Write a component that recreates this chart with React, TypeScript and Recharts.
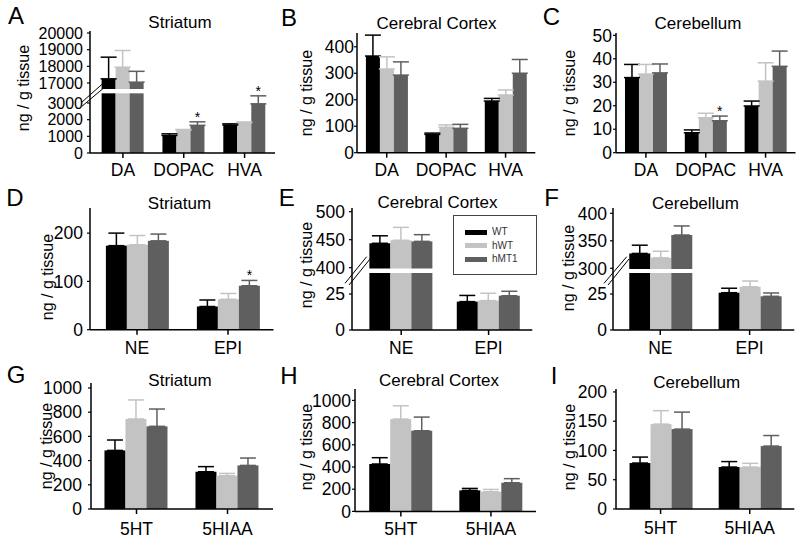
import React from 'react';
import { BarChart, Bar, XAxis, YAxis, ErrorBar } from 'recharts';

const FONT = '"Liberation Sans", Arial, Helvetica, sans-serif';

// ---- series ----
const seriesKeys = ['wt', 'hwt', 'hmt'];
const seriesNames = ['WT', 'hWT', 'hMT1'];
const seriesColors = ['#000000', '#c3c3c3', '#5f5f5f'];

// ---- categories ----
const catsDA = ['DA', 'DOPAC', 'HVA'];
const catsNE = ['NE', 'EPI'];
const cats5HT = ['5HT', '5HIAA'];

// ---- A: Striatum (DA, DOPAC, HVA) ----
const aWT = [17250, 1050, 1680];
const aWTe = [1300, 100, 70];
const aHWT = [17950, 1380, 1820];
const aHWTe = [1000, 30, 40];
const aHMT = [17050, 1660, 2950];
const aHMTe = [650, 210, 480];
const aSig = [false, true, true];
const aTicks = [0, 1000, 2000, 3000, 17000, 18000, 19000, 20000];

// ---- B: Cerebral Cortex ----
const bWT = [365, 69, 195];
const bWTe = [79, 5, 10];
const bHWT = [316, 96, 218];
const bHWTe = [46, 9, 19];
const bHMT = [293, 92, 300];
const bHMTe = [50, 15, 52];
const bTicks = [0, 100, 200, 300, 400];

// ---- C: Cerebellum ----
const cWT = [32, 8.5, 19.9];
const cWTe = [5.6, 1.2, 2.1];
const cHWT = [33.5, 14.9, 30.5];
const cHWTe = [4.1, 1.9, 7.8];
const cHMT = [34, 13.6, 36.8];
const cHMTe = [3.8, 2.0, 6.5];
const cSig = [false, true, false];
const cTicks = [0, 10, 20, 30, 40, 50];

// ---- D: Striatum (NE, EPI) ----
const dWT = [174, 48];
const dWTe = [26, 13.5];
const dHWT = [176, 63];
const dHWTe = [19, 12];
const dHMT = [184, 91];
const dHMTe = [14, 11];
const dSig = [false, true];
const dTicks = [0, 100, 200];

// ---- E: Cerebral Cortex (NE, EPI) ----
const eWT = [443.6, 19.7];
const eWTe = [13.4, 4.3];
const eHWT = [449, 20.4];
const eHWTe = [23, 5.1];
const eHMT = [447, 23.8];
const eHMTe = [12, 3.1];
const eTicks = [0, 25, 400, 450, 500];

// ---- F: Cerebellum (NE, EPI) ----
const fWT = [327, 25.9];
const fWTe = [15, 3.1];
const fHWT = [319, 30];
const fHWTe = [12, 4];
const fHMT = [360.5, 23.4];
const fHMTe = [16.5, 2.3];
const fTicks = [0, 25, 300, 350, 400];

// ---- G: Striatum (5HT, 5HIAA) ----
const gWT = [484, 308];
const gWTe = [86, 42];
const gHWT = [744, 275];
const gHWTe = [157, 19];
const gHMT = [683, 360];
const gHMTe = [143, 61];
const gTicks = [0, 200, 400, 600, 800, 1000];

// ---- H: Cerebral Cortex (5HT, 5HIAA) ----
const hWT = [427, 189];
const hWTe = [57, 18];
const hHWT = [832, 177];
const hHWTe = [120, 21];
const hHMT = [727, 258];
const hHMTe = [123, 37];
const hTicks = [0, 200, 400, 600, 800, 1000];

// ---- I: Cerebellum (5HT, 5HIAA) ----
const iWT = [78.5, 71.7];
const iWTe = [10.2, 9.3];
const iHWT = [145, 71.7];
const iHWTe = [23, 6.3];
const iHMT = [136.5, 107.5];
const iHMTe = [29, 18];
const iTicks = [0, 50, 100, 150, 200];

const noSig = [false, false, false];

// broken-axis transforms
const tfA = (v: number) => (v <= 3500 ? v : v - 12800);
const tfE = (v: number) => (v <= 40 ? v * 1.44 : 62.3 + (v - 400) * 0.56);
const tfF = (v: number) => (v <= 40 ? v * 1.44 : 61.7 + (v - 300) * 0.55);
const ident = (v: number) => v;

type Box = {
  left: number; right: number; top: number; bottom: number; pad: number;
  max: number; cg: string; ytm: number; xtm: number; yfs?: number;
};

const YW = 70;
const MT = 14;
const MR = 6;
const XH = 45;
const TICK_FS = 17.5;

const makeShape = (key: string, color: string, gap?: [number, number]) => (p: any) => {
  const { x, y, width, height, payload } = p;
  const v = payload[key];
  const ppu = v > 0 ? height / v : 0;
  const base = y + height;
  const els: any[] = [];
  if (gap && v > gap[1]) {
    const yHi = base - gap[1] * ppu;
    const yLo = base - gap[0] * ppu;
    els.push(<rect key="u" x={x} y={y} width={width} height={Math.max(0, yHi - y)} fill={color} />);
    els.push(<rect key="l" x={x} y={yLo} width={width} height={Math.max(0, base - yLo)} fill={color} />);
  } else {
    els.push(<rect key="a" x={x} y={y} width={width} height={Math.max(0, height)} fill={color} />);
  }
  if (payload[key + 'S']) {
    const ty = y - payload[key + 'E'][1] * ppu;
    els.push(
      <text key="s" x={x + width / 2} y={ty} textAnchor="middle" fontSize={14} fill="#000" fontFamily={FONT}>
        *
      </text>
    );
  }
  return <g>{els}</g>;
};

function Panel(props: {
  cats: string[]; means: number[][]; sems: number[][]; sig: boolean[];
  ticks: number[]; tf: (v: number) => number; gap?: [number, number]; box: Box;
}) {
  const { cats, means, sems, sig, ticks, tf, gap, box } = props;
  const rows = cats.map((c, i) => {
    const r: any = { name: c };
    seriesKeys.forEach((k, s) => {
      const m = means[s][i];
      const e = sems[s][i];
      r[k] = tf(m);
      r[k + 'E'] = [0, tf(m + e) - tf(m)];
      r[k + 'S'] = s === 2 ? sig[i] : false;
    });
    return r;
  });
  const dTicks = ticks.map(tf);
  const width = box.right - box.left + YW + MR;
  const height = box.bottom - box.top + MT + XH;
  return (
    <div style={{ position: 'absolute', left: box.left - YW, top: box.top - MT }}>
      <BarChart
        width={width}
        height={height}
        data={rows}
        margin={{ top: MT, right: MR, left: 0, bottom: 0 }}
        barGap={0}
        barCategoryGap={box.cg}
      >
        <XAxis
          dataKey="name"
          height={XH}
          interval={0}
          padding={{ left: box.pad, right: 0 }}
          axisLine={{ stroke: '#000', strokeWidth: 1.5 }}
          tickLine={{ stroke: '#000', strokeWidth: 1.5 }}
          tickSize={5}
          tickMargin={box.xtm}
          tick={{ fill: '#000', fontSize: TICK_FS, fontFamily: FONT }}
        />
        <YAxis
          type="number"
          width={YW}
          domain={[0, box.max]}
          ticks={dTicks}
          interval={0}
          allowDataOverflow
          tickFormatter={(_v: any, i: number) => String(ticks[i])}
          axisLine={{ stroke: '#000', strokeWidth: 1.5 }}
          tickLine={{ stroke: '#000', strokeWidth: 1.2 }}
          tickSize={3}
          tickMargin={box.ytm}
          tick={{ fill: '#000', fontSize: box.yfs || TICK_FS, fontFamily: FONT }}
        />
        {seriesKeys.map((k, s) => (
          <Bar
            key={k}
            dataKey={k}
            name={seriesNames[s]}
            fill={seriesColors[s]}
            isAnimationActive={false}
            shape={makeShape(k, seriesColors[s], gap)}
          >
            <ErrorBar
              dataKey={k + 'E'}
              direction="y"
              width={8}
              stroke={seriesColors[s]}
              strokeWidth={1.5}
              isAnimationActive={false}
            />
          </Bar>
        ))}
      </BarChart>
    </div>
  );
}

function T(p: { x: number; y: number; size: number; children: any; rot?: boolean }) {
  return (
    <div
      style={{
        position: 'absolute',
        left: p.x,
        top: p.y,
        transform: `translate(-50%, -50%)${p.rot ? ' rotate(-90deg)' : ''}`,
        fontSize: p.size,
        lineHeight: 1,
        whiteSpace: 'nowrap',
        fontFamily: FONT,
        color: '#000',
      }}
    >
      {p.children}
    </div>
  );
}

const YL = 'ng / g tissue';

export default function App() {
  return (
    <div
      style={{
        position: 'absolute',
        left: 0,
        top: 0,
        width: 800,
        height: 546,
        background: '#fff',
        overflow: 'hidden',
        fontFamily: FONT,
      }}
    >
      <Panel cats={catsDA} means={[aWT, aHWT, aHMT]} sems={[aWTe, aHWTe, aHMTe]} sig={aSig}
        ticks={aTicks} tf={tfA} gap={[3580, 3840]}
        box={{ left: 90, right: 275, top: 31, bottom: 153, pad: 2.5, max: 7320, cg: '15%', ytm: 4, xtm: 6, yfs: 16 }} />
      <Panel cats={catsDA} means={[bWT, bHWT, bHMT]} sems={[bWTe, bHWTe, bHMTe]} sig={noSig}
        ticks={bTicks} tf={ident}
        box={{ left: 356.7, right: 535, top: 33, bottom: 152.7, pad: 0, max: 452, cg: '15%', ytm: 0, xtm: 6 }} />
      <Panel cats={catsDA} means={[cWT, cHWT, cHMT]} sems={[cWTe, cHWTe, cHMTe]} sig={cSig}
        ticks={cTicks} tf={ident}
        box={{ left: 615.5, right: 795, top: 33, bottom: 152.7, pad: 0, max: 51, cg: '15%', ytm: 1, xtm: 6 }} />

      <Panel cats={catsNE} means={[dWT, dHWT, dHMT]} sems={[dWTe, dHWTe, dHMTe]} sig={dSig}
        ticks={dTicks} tf={ident}
        box={{ left: 90, right: 273.5, top: 208.3, bottom: 330, pad: 1.5, max: 252, cg: '15.8%', ytm: 4, xtm: 7 }} />
      <Panel cats={catsNE} means={[eWT, eHWT, eHMT]} sems={[eWTe, eHWTe, eHMTe]} sig={noSig}
        ticks={eTicks} tf={tfE} gap={[57, 61.5]}
        box={{ left: 351.7, right: 532, top: 208, bottom: 330, pad: 5.5, max: 122, cg: '13.6%', ytm: 4, xtm: 7 }} />
      <Panel cats={catsNE} means={[fWT, fHWT, fHMT]} sems={[fWTe, fHWTe, fHMTe]} sig={noSig}
        ticks={fTicks} tf={tfF} gap={[57, 61]}
        box={{ left: 612.7, right: 794, top: 208, bottom: 330, pad: 2.6, max: 122, cg: '15.3%', ytm: 3, xtm: 7 }} />

      <Panel cats={cats5HT} means={[gWT, gHWT, gHMT]} sems={[gWTe, gHWTe, gHMTe]} sig={noSig}
        ticks={gTicks} tf={ident}
        box={{ left: 91, right: 273, top: 383.3, bottom: 509.3, pad: 0, max: 1041, cg: '14.8%', ytm: 6, xtm: 9 }} />
      <Panel cats={cats5HT} means={[hWT, hHWT, hHMT]} sems={[hWTe, hHWTe, hHMTe]} sig={noSig}
        ticks={hTicks} tf={ident}
        box={{ left: 355, right: 536, top: 389.3, bottom: 511.7, pad: 0.8, max: 1103, cg: '14.9%', ytm: 1, xtm: 6 }} />
      <Panel cats={cats5HT} means={[iWT, iHWT, iHMT]} sems={[iWTe, iHWTe, iHMTe]} sig={noSig}
        ticks={iTicks} tf={ident}
        box={{ left: 615.7, right: 794, top: 389.3, bottom: 509.3, pad: 0, max: 205, cg: '15.2%', ytm: 6, xtm: 8 }} />

      {/* panel letters */}
      <T x={16} y={16} size={24}>A</T>
      <T x={289} y={17.5} size={24}>B</T>
      <T x={551.5} y={16.7} size={24}>C</T>
      <T x={15} y={198} size={24}>D</T>
      <T x={286.7} y={198} size={24}>E</T>
      <T x={551.7} y={198} size={24}>F</T>
      <T x={16} y={375} size={24}>G</T>
      <T x={289} y={375.5} size={24}>H</T>
      <T x={554} y={375.5} size={24}>I</T>

      {/* titles */}
      <T x={180} y={22} size={17}>Striatum</T>
      <T x={436.5} y={23} size={17}>Cerebral Cortex</T>
      <T x={698} y={23} size={17}>Cerebellum</T>
      <T x={179.5} y={203} size={17}>Striatum</T>
      <T x={437.5} y={201.7} size={17}>Cerebral Cortex</T>
      <T x={695.5} y={203} size={17}>Cerebellum</T>
      <T x={180} y={380} size={17}>Striatum</T>
      <T x={439} y={380} size={17}>Cerebral Cortex</T>
      <T x={696.7} y={381.7} size={17}>Cerebellum</T>

      {/* y labels */}
      <T x={24} y={88} size={16} rot>{YL}</T>
      <T x={306.7} y={93} size={16} rot>{YL}</T>
      <T x={570} y={93} size={16} rot>{YL}</T>
      <T x={47.5} y={277} size={16} rot>{YL}</T>
      <T x={306.7} y={265} size={16} rot>{YL}</T>
      <T x={569} y={268} size={16} rot>{YL}</T>
      <T x={47} y={446} size={16} rot>{YL}</T>
      <T x={306.7} y={447} size={16} rot>{YL}</T>
      <T x={570} y={446.7} size={16} rot>{YL}</T>

      {/* axis break marks */}
      <svg width={800} height={546} style={{ position: 'absolute', left: 0, top: 0, pointerEvents: 'none' }}>
        <g stroke="#000" strokeWidth={1}>
          <line x1={81.7} y1={102.3} x2={102.3} y2={84} />
          <line x1={81.7} y1={106.5} x2={103} y2={88.5} />
          <line x1={345} y1={283.3} x2={366.7} y2={256.7} />
          <line x1={349} y1={285} x2={370} y2={259} />
          <line x1={604} y1={283.3} x2={626.7} y2={256.7} />
          <line x1={608} y1={285} x2={629} y2={259} />
        </g>
      </svg>

      {/* legend */}
      <div
        style={{
          position: 'absolute',
          left: 453,
          top: 215,
          width: 84,
          height: 60,
          border: '1px solid #444',
          background: '#fff',
          boxSizing: 'border-box',
        }}
      >
        {seriesNames.map((n, i) => (
          <div key={n} style={{ position: 'absolute', left: 11, top: 11 + i * 13.7, height: 10, display: 'flex', alignItems: 'center' }}>
            <div style={{ width: 22, height: 5, background: seriesColors[i] }} />
            <span style={{ marginLeft: 5, fontSize: 10, lineHeight: 1, color: '#333', fontFamily: FONT }}>{n}</span>
          </div>
        ))}
      </div>
    </div>
  );
}
